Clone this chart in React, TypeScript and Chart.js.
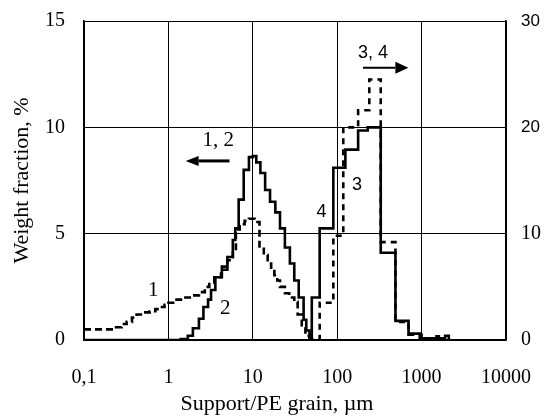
import React, { useEffect, useRef } from 'react';
import { Chart, registerables } from 'chart.js';

Chart.register(...registerables);

// ---- axes ----
const xTickValues = [0.1, 1, 10, 100, 1000, 10000];
const xTickLabels = ['0,1', '1', '10', '100', '1000', '10000'];
const xTitle = 'Support/PE grain, \u00B5m';
const yTitle = 'Weight fraction, %';

// ---- curve 1 (support, dashed, left axis) : bin start x, value ----
const curve1X = [0.1, 0.24, 0.28, 0.32, 0.37, 0.42, 0.5, 0.6, 0.7, 0.8, 0.9, 1.0, 1.2, 1.47, 1.93, 2.3, 2.7, 3.05, 3.5, 4.2, 5.0, 5.8, 6.3, 7.0, 8.0, 9.0, 10.5, 12, 13.5, 15, 16.5, 18, 19.5, 21, 24, 27, 31, 34, 38, 42, 47];
const curve1Y = [0.5, 0.6, 0.75, 0.85, 1.05, 1.2, 1.3, 1.35, 1.45, 1.55, 1.65, 1.75, 1.9, 2.0, 2.1, 2.25, 2.5, 2.7, 2.95, 3.3, 3.75, 4.2, 5.2, 5.45, 5.6, 5.7, 5.55, 4.4, 4.0, 3.6, 3.3, 3.05, 2.8, 2.5, 2.2, 2.0, 1.8, 1.2, 0.6, 0.2, 0];

// ---- curve 2 (support, solid, left axis) ----
const curve2X = [0.1, 1.4, 1.7, 1.95, 2.3, 2.6, 2.95, 3.2, 3.6, 4.3, 5.0, 5.8, 6.2, 6.8, 7.8, 9.0, 10, 11, 12.3, 14, 16, 18.5, 21, 24, 27.5, 31, 35, 40, 43, 47, 50];
const curve2Y = [0, 0.05, 0.2, 0.55, 1.0, 1.55, 1.9, 2.35, 2.95, 3.45, 3.9, 4.7, 5.25, 6.6, 8.0, 8.6, 8.65, 8.35, 7.85, 7.05, 6.5, 6.0, 5.25, 4.35, 3.6, 2.8, 2.0, 0.95, 0.45, 0.1, 0];

// ---- curve 3 (PE, dashed, right axis) ----
const curve3X = [45, 62, 90, 118, 177, 240, 328, 490, 700, 1000, 1100];
const curve3Y = [0, 3.5, 9.8, 20, 21.6, 24.5, 9.2, 1.7, 0.5, 0.1, 0];

// ---- curve 4 (PE, solid, right axis) ----
const curve4X = [45, 50, 62, 90, 125, 177, 230, 328, 490, 700, 950, 1500, 1600, 1900, 2100];
const curve4Y = [0, 4.0, 10.5, 16.2, 17.9, 19.7, 20, 8.2, 1.8, 0.6, 0.15, 0.35, 0.15, 0.4, 0];

// ---- annotations (data coordinates) ----
const noteTexts = ['1, 2', '3, 4', '1', '2', '3', '4'];
const noteX = [3.9, 265, 0.66, 4.7, 172, 65];
const noteY = [9.36, 27, 2.35, 1.5, 14.6, 12.0];
const noteAxis = ['y', 'y1', 'y', 'y', 'y1', 'y1'];
const noteSans = [false, true, false, false, true, true];

const arrowFrom = [5.3, 202];
const arrowTo = [1.6, 697];
const arrowY = [8.42, 25.6];
const arrowAxis = ['y', 'y1'];

const SERIF = '"Liberation Serif", "Times New Roman", serif';
const SANS = '"Liberation Sans", Arial, sans-serif';

const toPoints = (xs: number[], ys: number[]) => xs.map((x, i) => ({ x, y: ys[i] }));

const annotationPlugin = {
  id: 'annotations',
  afterDatasetsDraw(chart: any) {
    const { ctx, scales } = chart;
    ctx.save();
    ctx.fillStyle = '#000';
    ctx.strokeStyle = '#000';
    ctx.textAlign = 'center';
    ctx.textBaseline = 'middle';
    noteTexts.forEach((t, i) => {
      const px = scales.x.getPixelForValue(noteX[i]);
      const py = scales[noteAxis[i]].getPixelForValue(noteY[i]);
      ctx.font = noteSans[i] ? `18px ${SANS}` : `21px ${SERIF}`;
      ctx.fillText(t, px, py);
    });
    arrowFrom.forEach((f, i) => {
      const x1 = scales.x.getPixelForValue(f);
      const x2 = scales.x.getPixelForValue(arrowTo[i]);
      const y = scales[arrowAxis[i]].getPixelForValue(arrowY[i]);
      const dir = Math.sign(x2 - x1);
      const headLen = 13;
      const headHalf = i === 0 ? 5 : 6;
      ctx.lineWidth = i === 0 ? 3 : 2;
      ctx.beginPath();
      ctx.moveTo(x1, y);
      ctx.lineTo(x2 - dir * headLen, y);
      ctx.stroke();
      ctx.beginPath();
      ctx.moveTo(x2, y);
      ctx.lineTo(x2 - dir * headLen, y - headHalf);
      ctx.lineTo(x2 - dir * headLen, y + headHalf);
      ctx.closePath();
      ctx.fill();
    });
    // x axis title
    const area = chart.chartArea;
    ctx.font = `22px ${SERIF}`;
    ctx.fillText(xTitle, (area.left + area.right) / 2 - 18, 404);
    ctx.restore();
  },
};

export default function App() {
  const canvasRef = useRef<HTMLCanvasElement | null>(null);

  useEffect(() => {
    const canvas = canvasRef.current;
    if (!canvas) return;
    const common = {
      borderColor: '#000',
      backgroundColor: '#000',
      borderWidth: 2.6,
      pointRadius: 0,
      fill: false,
      stepped: true,
      tension: 0,
      borderCapStyle: 'butt',
      borderJoinStyle: 'miter',
    };
    const chart = new Chart(canvas, {
      type: 'line',
      data: {
        datasets: [
          { ...common, label: '1', data: toPoints(curve1X, curve1Y), yAxisID: 'y', borderDash: [7, 4] },
          { ...common, label: '2', data: toPoints(curve2X, curve2Y), yAxisID: 'y' },
          { ...common, label: '3', data: toPoints(curve3X, curve3Y), yAxisID: 'y1', borderDash: [6, 5] },
          { ...common, label: '4', data: toPoints(curve4X, curve4Y), yAxisID: 'y1' },
        ] as any,
      },
      options: {
        animation: false,
        responsive: false,
        devicePixelRatio: 1,
        layout: { padding: { top: 21, left: 0, right: 0, bottom: 0 } },
        plugins: { legend: { display: false }, tooltip: { enabled: false } },
        scales: {
          x: {
            type: 'logarithmic',
            min: 0.1,
            max: 10000,
            afterBuildTicks: (s: any) => {
              s.ticks = xTickValues.map((v) => ({ value: v }));
            },
            afterFit: (s: any) => {
              s.height = 78;
            },
            ticks: {
              autoSkip: false,
              maxRotation: 0,
              color: '#000',
              padding: 26,
              font: { family: SERIF, size: 20 },
              callback: (v: any) => {
                const i = xTickValues.findIndex((t) => Math.abs(t - v) < 1e-9 * Math.max(1, t));
                return i >= 0 ? xTickLabels[i] : '';
              },
            },
            grid: { color: '#000', lineWidth: 1, drawTicks: false },
            border: { color: '#000', width: 1.5 },
          },
          y: {
            type: 'linear',
            position: 'left',
            min: 0,
            max: 15,
            afterFit: (s: any) => {
              s.width = 84;
              s.paddingTop = 0;
              s.paddingBottom = 0;
            },
            ticks: {
              stepSize: 5,
              color: '#000',
              padding: 19,
              font: { family: SERIF, size: 20 },
            },
            grid: { color: '#000', lineWidth: 1, drawTicks: false },
            border: { color: '#000', width: 1.5 },
            title: {
              display: true,
              text: yTitle,
              color: '#000',
              font: { family: SERIF, size: 22 },
              padding: { top: 9, bottom: 0 },
            },
          },
          y1: {
            type: 'linear',
            position: 'right',
            min: 0,
            max: 30,
            afterFit: (s: any) => {
              s.width = 45;
              s.paddingTop = 0;
              s.paddingBottom = 0;
            },
            ticks: {
              stepSize: 10,
              color: '#000',
              padding: 15,
              font: (c: any) =>
                c.tick && c.tick.value >= 20
                  ? { family: SANS, size: 17 }
                  : { family: SERIF, size: 20 },
            },
            grid: { drawOnChartArea: false, drawTicks: false, color: '#000' },
            border: { color: '#000', width: 1.5 },
          },
        },
      } as any,
      plugins: [annotationPlugin],
    });
    return () => chart.destroy();
  }, []);

  return (
    <div style={{ position: 'fixed', left: 0, top: 0, width: 557, height: 418, background: '#fff' }}>
      <canvas ref={canvasRef} width={557} height={418} style={{ display: 'block' }} />
    </div>
  );
}
